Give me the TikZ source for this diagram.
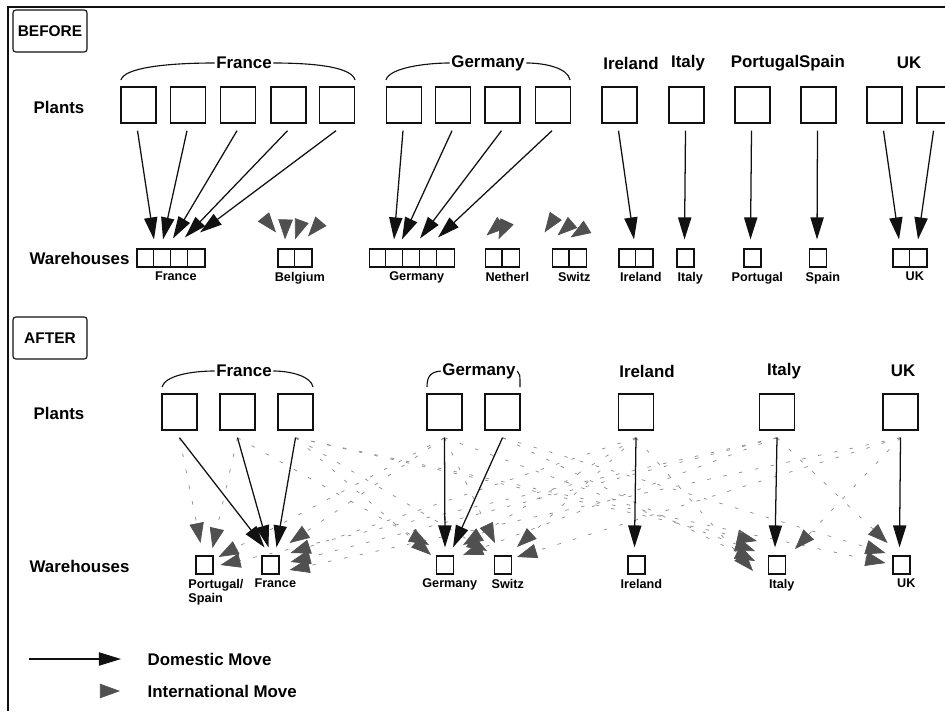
\documentclass[tikz,border=0pt]{standalone}
\usepackage{fontspec}
\setmainfont{Liberation Sans}
\usetikzlibrary{arrows.meta,positioning,calc}
\definecolor{ink}{HTML}{111111}
\definecolor{shade}{HTML}{505050}
\definecolor{faint}{HTML}{8C8C8C}
\tikzset{hdr/.style={font=\bfseries\fontsize{12}{14}\selectfont,inner sep=1pt},sml/.style={font=\bfseries\fontsize{9}{10}\selectfont,inner sep=1pt,xshift=.12cm},tag/.style={draw=ink,line width=.8pt,rounded corners=2pt,minimum width=1.85cm,minimum height=1.05cm,font=\bfseries\fontsize{11}{13}\selectfont},plant/.style={draw=ink,line width=1pt,minimum width=.875cm,minimum height=.9cm,inner sep=0pt},whouse/.style={draw=ink,line width=.8pt,minimum width=#1*.425cm,minimum height=.45cm,inner sep=0pt},whouse/.default=1,brace/.style={draw=ink,line width=.8pt},dom/.style={-{Triangle[length=.55cm,width=.33cm]},draw=ink,line width=.9pt},intl/.style={-{Triangle[length=.5cm,width=.36cm,color=shade]},draw=faint,line width=.5pt,dash pattern=on 2.5pt off 9pt},ihead/.style={-{Triangle[length=.5cm,width=.36cm,color=shade]},draw=faint,line width=.5pt}}
\newcommand{\whcells}[2]{\foreach \k in {1,...,#2}{\draw[ink,line width=.8pt] ($(#1.south west)+(\k*17,0)$) -- ($(#1.north west)+(\k*17,0)$);}}

\begin{document}
\begin{tikzpicture}[x=.025cm,y=-.025cm]
\useasboundingbox (0,0) rectangle (945,711);
\clip (0,0) rectangle (945,711);
\fill[white] (0,0) rectangle (945,711);
\draw[ink,line width=.8pt] (945,7) -- (8,7) -- (8,711);

\node[tag] (before) at (50,31) {BEFORE};
\node[hdr,anchor=west] (bplants) at (32,107) {Plants};
\node[hdr,anchor=west] (bwh) at (28,258) {Warehouses};

\node[plant] (bfr1) at (138.5,105) {};
\node[plant] (bfr2) at (188,105) {};
\node[plant] (bfr3) at (238,105) {};
\node[plant] (bfr4) at (288.5,105) {};
\node[plant] (bfr5) at (337,105) {};
\node[plant] (bde1) at (404,105) {};
\node[plant] (bde2) at (453,105) {};
\node[plant] (bde3) at (502.5,105) {};
\node[plant] (bde4) at (553,105) {};
\node[plant] (bie) at (619.5,105) {};
\node[plant] (bit) at (686.5,105) {};
\node[plant] (bpt) at (752.5,105) {};
\node[plant] (bes) at (818.5,105) {};
\node[plant] (buk1) at (884.5,105) {};
\node[plant] (buk2) at (934.5,105) {};

\node[hdr] (lbfr) at (244,63) {France};
\node[hdr] (lbde) at (488,63) {Germany};
\node[hdr] (lbie) at (631,63) {Ireland};
\node[hdr] (lbit) at (688,63) {Italy};
\node[hdr] (lbpt) at (765,63) {Portugal};
\node[hdr] (lbes) at (822,63) {Spain};
\node[hdr] (lbuk) at (909,63) {UK};
\draw[brace] (121,80) .. controls (124,68) and (165,63) .. (lbfr.west);
\draw[brace] (lbfr.east) .. controls (320,63) and (352,68) .. (355,80);
\draw[brace] (386,80) .. controls (389,68) and (425,63) .. (lbde.west);
\draw[brace] (lbde.east) .. controls (545,63) and (568,68) .. (570,80);

\node[whouse=4] (wfr) at (171,258) {};
\node[whouse=2] (wbe) at (295,258) {};
\node[whouse=5] (wde) at (412,258) {};
\node[whouse=2] (wnl) at (502.5,258) {};
\node[whouse=2] (wch) at (569.5,258) {};
\node[whouse=2] (wie) at (636,258) {};
\node[whouse] (wit) at (685.5,258) {};
\node[whouse] (wpt) at (752.5,258) {};
\node[whouse] (wes) at (818,258) {};
\node[whouse=2] (wuk) at (910,258) {};
\whcells{wfr}{3}
\whcells{wbe}{1}
\whcells{wde}{4}
\whcells{wnl}{1}
\whcells{wch}{1}
\whcells{wie}{1}
\whcells{wuk}{1}

\node[sml,below=2pt of wfr] {France};
\node[sml,below=2pt of wbe] {Belgium};
\node[sml,below=2pt of wde] {Germany};
\node[sml,below=2pt of wnl] {Netherl};
\node[sml,below=2pt of wch] {Switz};
\node[sml,below=2pt of wie] {Ireland};
\node[sml,below=2pt of wit] {Italy};
\node[sml,below=2pt of wpt] {Portugal};
\node[sml,below=2pt of wes] {Spain};
\node[sml,below=2pt of wuk] {UK};

\foreach \src/\dst/\ox/\oy in {bfr1/wfr/-17/-9,bfr2/wfr/-8/-9,bfr3/wfr/2/-10,bfr4/wfr/14/-11,bfr5/wfr/29/-16,bde1/wde/-18/-9,bde2/wde/-10/-9,bde3/wde/8/-10,bde4/wde/26/-11,bie/wie/-2/-9,bit/wit/-1/-9,bpt/wpt/-2/-9,bes/wes/-1/-9,buk1/wuk/-11/-9,buk2/wuk/8/-9}
  \draw[dom] ($(\src.south)+(-1,7)$) -- ($(\dst.north)+(\ox,\oy)$);

\foreach \src/\dst/\ox/\oy in {bfr2/wbe/-19/-16,bfr4/wbe/-10/-9,bfr5/wbe/0/-9,bde1/wbe/13/-12,bie/wnl/-16/-13,bde4/wnl/-4/-9,bie/wch/-25/-16,bit/wch/-12/-13,bpt/wch/1/-11}{
  \coordinate (tip) at ($(\dst.north)+(\ox,\oy)$);
  \draw[ihead] ($(tip)!.5cm!(\src.south)$) -- (tip);
}

\node[tag] (after) at (50,338) {AFTER};
\node[hdr,anchor=west] (aplants) at (32,413) {Plants};
\node[hdr,anchor=west] (awh) at (28,566) {Warehouses};

\node[plant] (afr1) at (179.5,412) {};
\node[plant] (afr2) at (237.5,412) {};
\node[plant] (afr3) at (295.5,412) {};
\node[plant] (ade1) at (444.5,412) {};
\node[plant] (ade2) at (502.5,412) {};
\node[plant] (aie) at (636,412) {};
\node[plant] (ait) at (777,412) {};
\node[plant] (auk) at (900.5,412) {};

\node[hdr] (lafr) at (244,371) {France};
\node[hdr] (lade) at (479,371) {Germany};
\node[hdr] (laie) at (647,371) {Ireland};
\node[hdr] (lait) at (784,371) {Italy};
\node[hdr] (lauk) at (903,371) {UK};
\draw[brace] (162,387) .. controls (165,376) and (190,371) .. (lafr.west);
\draw[brace] (lafr.east) .. controls (290,371) and (311,376) .. (313,387);
\draw[brace] (427,387) .. controls (427,377) and (430,372) .. (lade.west);
\draw[brace] (lade.east) .. controls (520,374) .. (520,387);

\node[whouse] (xps) at (204.5,565) {};
\node[whouse] (xfr) at (270.5,565) {};
\node[whouse] (xde) at (445,565) {};
\node[whouse] (xch) at (503,565) {};
\node[whouse] (xie) at (636.5,565) {};
\node[whouse] (xit) at (777,565) {};
\node[whouse] (xuk) at (901.5,565) {};

\node[sml,anchor=north west,align=left] at (182,578) {Portugal/\\Spain};
\node[sml,below=2pt of xfr] {France};
\node[sml,below=2pt of xde] {Germany};
\node[sml,below=2pt of xch] {Switz};
\node[sml,below=2pt of xie] {Ireland};
\node[sml,below=2pt of xit] {Italy};
\node[sml,below=2pt of xuk] {UK};

\foreach \src/\dst/\ox/\oy in {afr1/xps/-4/-22,afr2/xps/8/-17,ade1/xps/14/-8,ait/xps/16/0,ade1/xfr/19/-22,aie/xfr/20/-12,ait/xfr/20/-3,auk/xfr/19/5,afr2/xde/-16/-20,afr3/xde/-14/-10,aie/xde/18/-20,ait/xde/18/-10,ade1/xch/-8/-22,afr3/xch/-16/-14,aie/xch/14/-18,auk/xch/14/-8,afr3/xit/-20/-24,ade1/xit/-22/-14,ade2/xit/-22/-4,aie/xit/-24/6,auk/xit/18/-16,ait/xuk/-14/-22,ade2/xuk/-16/-12,afr3/xuk/-16/-2}
  \draw[intl] ($(\src.south)+(0,7)$) -- ($(\dst)+(\ox,\oy)$);

\foreach \src/\dst/\ox in {afr1/xfr/-6,afr2/xfr/-2,afr3/xfr/6,ade1/xde/0,ade2/xde/8,aie/xie/-2,ait/xit/-2,auk/xuk/-2}
  \draw[dom] ($(\src.south)+(0,7)$) -- ($(\dst.north)+(\ox,-8)$);

\coordinate (ldom) at (29,659);
\coordinate (ldomt) at (121,659);
\draw[dom] (ldom) -- (ldomt);
\node[hdr,anchor=west] (tdom) at (146,659) {Domestic Move};
\coordinate (lint) at (100,691);
\coordinate (lintt) at (120,691);
\draw[ihead] (lint) -- (lintt);
\node[hdr,anchor=west] (tint) at (146,691) {International Move};
\end{tikzpicture}
\end{document}
